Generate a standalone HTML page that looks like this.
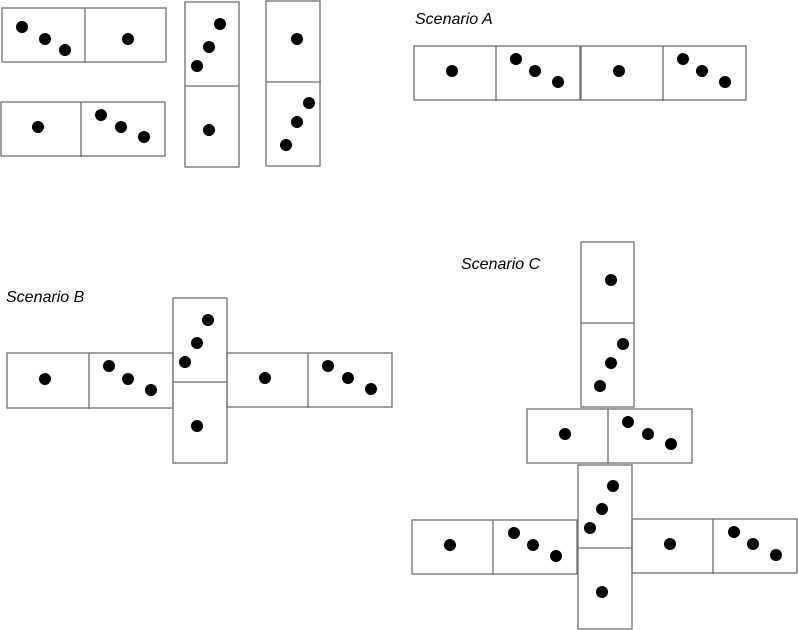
<!DOCTYPE html>
<html><head><style>html,body{margin:0;padding:0;background:#fff}svg{display:block}</style></head><body>
<svg width="798" height="630" viewBox="0 0 798 630" xmlns="http://www.w3.org/2000/svg">
<g fill="none" stroke="#6e6e6e" stroke-width="1.3">
<rect x="2" y="8" width="164" height="54"/><line x1="85" y1="8" x2="85" y2="63"/>
<rect x="1" y="102" width="164" height="54"/><line x1="81" y1="102" x2="81" y2="157"/>
<rect x="185" y="2" width="54" height="165"/><line x1="185" y1="86" x2="239" y2="86"/>
<rect x="266" y="1" width="54" height="165"/><line x1="266" y1="82" x2="321" y2="82"/>
<rect x="414" y="46" width="166" height="54"/><line x1="496" y1="46" x2="496" y2="101"/>
<rect x="581" y="46" width="165" height="54"/><line x1="663" y1="46" x2="663" y2="101"/>
<rect x="7" y="353" width="166" height="55"/><line x1="89" y1="353" x2="89" y2="409"/>
<rect x="173" y="298" width="54" height="165"/><line x1="173" y1="382" x2="227" y2="382"/>
<rect x="227" y="353" width="165" height="54"/><line x1="308" y1="353" x2="308" y2="408"/>
<rect x="581" y="242" width="53" height="165"/><line x1="581" y1="323" x2="634" y2="323"/>
<rect x="527" y="409" width="165" height="54"/><line x1="608" y1="409" x2="608" y2="464"/>
<rect x="578" y="465" width="54" height="164"/><line x1="578" y1="548" x2="632" y2="548"/>
<rect x="412" y="520" width="165" height="54"/><line x1="493" y1="520" x2="493" y2="575"/>
<rect x="632" y="519" width="165" height="54"/><line x1="713" y1="519" x2="713" y2="574"/>
</g>
<g fill="#000">
<circle cx="22" cy="27" r="6"/><circle cx="45" cy="39" r="6"/><circle cx="65" cy="50" r="6"/><circle cx="128" cy="39" r="6"/>
<circle cx="38" cy="127" r="6"/><circle cx="101" cy="115" r="6"/><circle cx="121" cy="127" r="6"/><circle cx="144" cy="137" r="6"/>
<circle cx="220" cy="24" r="6"/><circle cx="209" cy="47" r="6"/><circle cx="197" cy="66" r="6"/><circle cx="209" cy="130" r="6"/>
<circle cx="297" cy="39" r="6"/><circle cx="309" cy="103" r="6"/><circle cx="297" cy="122" r="6"/><circle cx="286" cy="145" r="6"/>
<circle cx="452" cy="71" r="6"/><circle cx="516" cy="59" r="6"/><circle cx="535" cy="71" r="6"/><circle cx="558" cy="82" r="6"/>
<circle cx="619" cy="71" r="6"/><circle cx="683" cy="59" r="6"/><circle cx="702" cy="71" r="6"/><circle cx="725" cy="82" r="6"/>
<circle cx="45" cy="379" r="6"/><circle cx="109" cy="366" r="6"/><circle cx="128" cy="379" r="6"/><circle cx="151" cy="390" r="6"/>
<circle cx="208" cy="320" r="6"/><circle cx="197" cy="343" r="6"/><circle cx="185" cy="362" r="6"/><circle cx="197" cy="426" r="6"/>
<circle cx="265" cy="378" r="6"/><circle cx="328" cy="366" r="6"/><circle cx="348" cy="378" r="6"/><circle cx="371" cy="389" r="6"/>
<circle cx="611" cy="280" r="6"/><circle cx="623" cy="344" r="6"/><circle cx="611" cy="363" r="6"/><circle cx="600" cy="386" r="6"/>
<circle cx="565" cy="434" r="6"/><circle cx="628" cy="422" r="6"/><circle cx="648" cy="434" r="6"/><circle cx="671" cy="444" r="6"/>
<circle cx="613" cy="486" r="6"/><circle cx="602" cy="509" r="6"/><circle cx="590" cy="528" r="6"/><circle cx="602" cy="592" r="6"/>
<circle cx="450" cy="545" r="6"/><circle cx="514" cy="533" r="6"/><circle cx="533" cy="545" r="6"/><circle cx="556" cy="556" r="6"/>
<circle cx="670" cy="544" r="6"/><circle cx="734" cy="532" r="6"/><circle cx="753" cy="544" r="6"/><circle cx="776" cy="555" r="6"/>
</g>
<g font-family="Liberation Sans, sans-serif" font-style="italic" font-size="16" fill="#000">
<text x="415" y="24">Scenario A</text>
<text x="6" y="302">Scenario B</text>
<text x="461" y="269">Scenario C</text>
</g>
</svg>
</body></html>
